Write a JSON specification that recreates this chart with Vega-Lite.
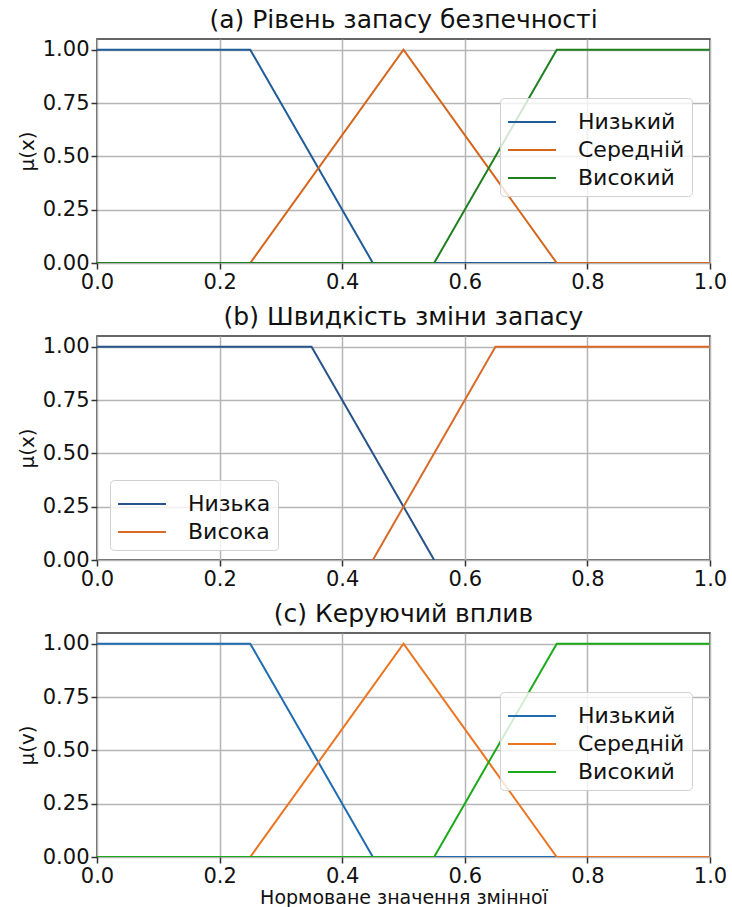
{
  "$schema": "https://vega.github.io/schema/vega-lite/v6.json",
  "background": "white",
  "padding": {"left": 16, "top": 6, "right": 5, "bottom": 0},
  "spacing": 10,
  "config": {
    "font": "DejaVu Sans",
    "view": {"stroke": "#333333", "strokeWidth": 1.5},
    "axis": {
      "labelFont": "DejaVu Sans", "labelFontSize": 21, "labelColor": "#111",
      "titleFont": "DejaVu Sans", "titleFontSize": 20, "titleFontWeight": "normal", "titleColor": "#111",
      "gridColor": "#b5b5b5", "gridWidth": 1.5, "domain": false, "labelFlush": false,
      "tickColor": "#333", "tickSize": 6, "tickWidth": 1.5, "labelPadding": 2
    },
    "title": {"font": "DejaVu Sans", "fontSize": 25, "fontWeight": "normal", "color": "#111", "offset": 6},
    "legend": {
      "labelFont": "DejaVu Sans", "labelFontSize": 22, "labelColor": "#111",
      "symbolType": "M-1.5,0H1.5", "symbolSize": 1024, "symbolStrokeWidth": 2, "symbolOffset": 8,
      "fillColor": "rgba(255,255,255,0.8)", "strokeColor": "#d0d0d0", "cornerRadius": 4,
      "padding": 7, "rowPadding": -2, "labelOffset": 29, "title": null
    }
  },
  "resolve": {"scale": {"color": "independent", "x": "independent", "y": "independent"}, "legend": {"color": "independent"}},
  "vconcat": [
    {
      "title": "(a) Рівень запасу безпечності",
      "width": 613, "height": 224,
      "data": {"values": [
        {"x": 0, "mu": 1, "s": "Низький"}, {"x": 0.25, "mu": 1, "s": "Низький"}, {"x": 0.45, "mu": 0, "s": "Низький"}, {"x": 1, "mu": 0, "s": "Низький"},
        {"x": 0, "mu": 0, "s": "Середній"}, {"x": 0.25, "mu": 0, "s": "Середній"}, {"x": 0.5, "mu": 1, "s": "Середній"}, {"x": 0.75, "mu": 0, "s": "Середній"}, {"x": 1, "mu": 0, "s": "Середній"},
        {"x": 0, "mu": 0, "s": "Високий"}, {"x": 0.55, "mu": 0, "s": "Високий"}, {"x": 0.75, "mu": 1, "s": "Високий"}, {"x": 1, "mu": 1, "s": "Високий"}
      ]},
      "mark": {"type": "line", "strokeWidth": 2, "clip": true},
      "encoding": {
        "x": {"field": "x", "type": "quantitative", "scale": {"domain": [0, 1], "nice": false}, "axis": {"values": [0, 0.2, 0.4, 0.6, 0.8, 1], "format": ".1f", "title": null}},
        "y": {"field": "mu", "type": "quantitative", "scale": {"domain": [0, 1.05], "nice": false, "zero": false}, "axis": {"values": [0, 0.25, 0.5, 0.75, 1], "format": ".2f", "title": "μ(x)", "titlePadding": 5}},
        "color": {"field": "s", "type": "nominal", "scale": {"domain": ["Низький", "Середній", "Високий"], "range": ["#1f5c99", "#d5651c", "#1f801f"]},
          "legend": {"orient": "none", "legendX": 403, "legendY": 59}},
        "order": {"field": "x", "type": "quantitative"}
      }
    },
    {
      "title": "(b) Швидкість зміни запасу",
      "width": 613, "height": 224,
      "data": {"values": [
        {"x": 0, "mu": 1, "s": "Низька"}, {"x": 0.35, "mu": 1, "s": "Низька"}, {"x": 0.55, "mu": 0, "s": "Низька"},
        {"x": 0.45, "mu": 0, "s": "Висока"}, {"x": 0.65, "mu": 1, "s": "Висока"}, {"x": 1, "mu": 1, "s": "Висока"}
      ]},
      "mark": {"type": "line", "strokeWidth": 2, "clip": true},
      "encoding": {
        "x": {"field": "x", "type": "quantitative", "scale": {"domain": [0, 1], "nice": false}, "axis": {"values": [0, 0.2, 0.4, 0.6, 0.8, 1], "format": ".1f", "title": null}},
        "y": {"field": "mu", "type": "quantitative", "scale": {"domain": [0, 1.05], "nice": false, "zero": false}, "axis": {"values": [0, 0.25, 0.5, 0.75, 1], "format": ".2f", "title": "μ(x)", "titlePadding": 5}},
        "color": {"field": "s", "type": "nominal", "scale": {"domain": ["Низька", "Висока"], "range": ["#26538a", "#d96a2a"]},
          "legend": {"orient": "none", "legendX": 13, "legendY": 144}},
        "order": {"field": "x", "type": "quantitative"}
      }
    },
    {
      "title": "(c) Керуючий вплив",
      "width": 613, "height": 224,
      "data": {"values": [
        {"x": 0, "mu": 1, "s": "Низький"}, {"x": 0.25, "mu": 1, "s": "Низький"}, {"x": 0.45, "mu": 0, "s": "Низький"}, {"x": 1, "mu": 0, "s": "Низький"},
        {"x": 0, "mu": 0, "s": "Середній"}, {"x": 0.25, "mu": 0, "s": "Середній"}, {"x": 0.5, "mu": 1, "s": "Середній"}, {"x": 0.75, "mu": 0, "s": "Середній"}, {"x": 1, "mu": 0, "s": "Середній"},
        {"x": 0, "mu": 0, "s": "Високий"}, {"x": 0.55, "mu": 0, "s": "Високий"}, {"x": 0.75, "mu": 1, "s": "Високий"}, {"x": 1, "mu": 1, "s": "Високий"}
      ]},
      "mark": {"type": "line", "strokeWidth": 2, "clip": true},
      "encoding": {
        "x": {"field": "x", "type": "quantitative", "scale": {"domain": [0, 1], "nice": false}, "axis": {"values": [0, 0.2, 0.4, 0.6, 0.8, 1], "format": ".1f", "title": "Нормоване значення змінної", "titlePadding": 2, "titleFontSize": 19}},
        "y": {"field": "mu", "type": "quantitative", "scale": {"domain": [0, 1.05], "nice": false, "zero": false}, "axis": {"values": [0, 0.25, 0.5, 0.75, 1], "format": ".2f", "title": "μ(v)", "titlePadding": 5}},
        "color": {"field": "s", "type": "nominal", "scale": {"domain": ["Низький", "Середній", "Високий"], "range": ["#1f6cb0", "#ec7420", "#1aaa1a"]},
          "legend": {"orient": "none", "legendX": 403, "legendY": 59}},
        "order": {"field": "x", "type": "quantitative"}
      }
    }
  ]
}
